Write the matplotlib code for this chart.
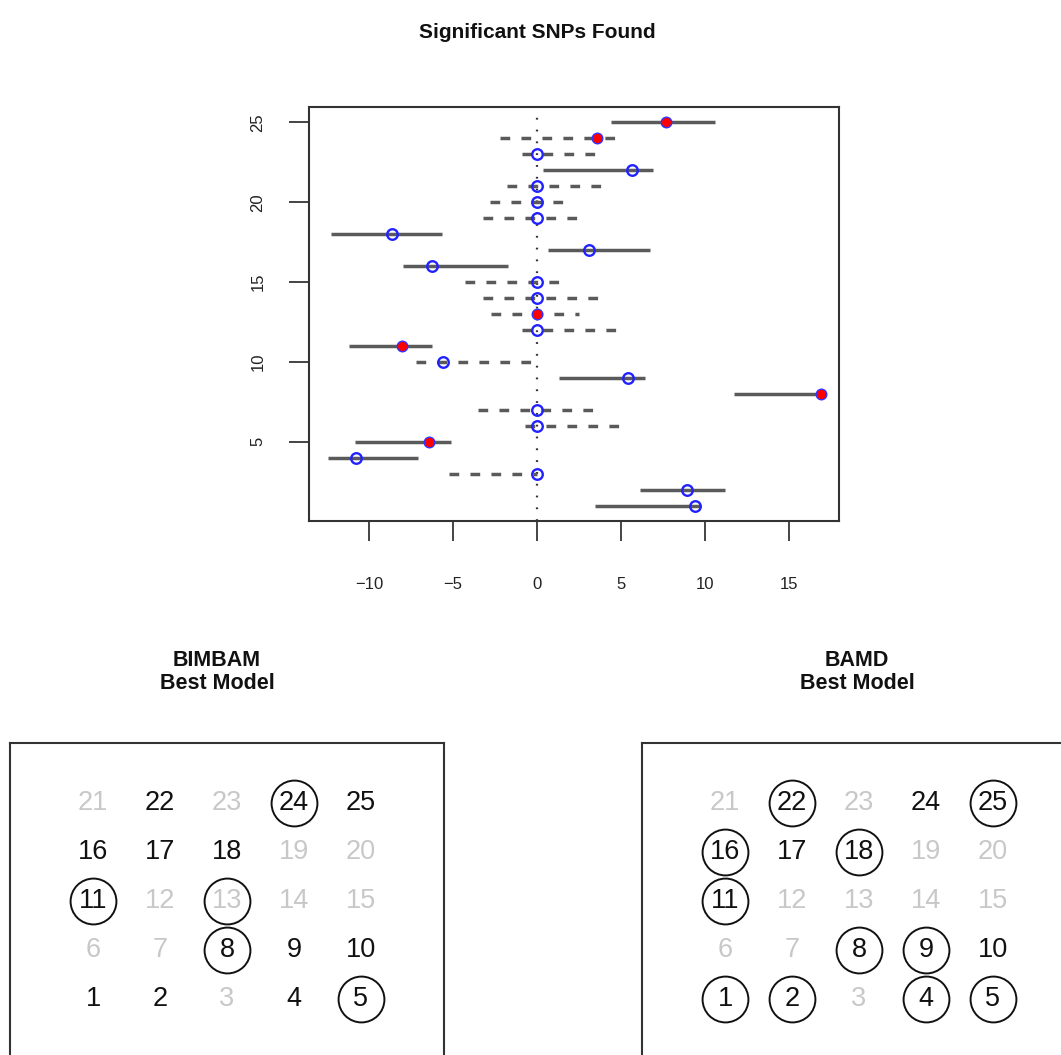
import matplotlib
matplotlib.use("Agg")
import matplotlib.pyplot as plt
import numpy as np

plt.rcParams['font.family'] = ['Liberation Sans', 'DejaVu Sans']
plt.rcParams['lines.scale_dashes'] = False

# SNP index, posterior estimate and interval
snp = list(range(1, 26))
est = [9.39, 8.96, 0, -10.75, -6.45, 0, 0, 16.90, 5.39, -5.57,
       -8.02, 0, 0, 0, 0, -6.22, 3.07, -8.64, 0, 0,
       0, 5.66, 0, 3.57, 7.66]
lower = [3.44, 6.12, -5.26, -12.46, -10.86, -0.73, -3.49, 11.73, 1.32, -7.20,
         -11.20, -0.90, -2.71, -3.24, -4.28, -8.00, 0.63, -12.28, -3.24, -2.82,
         -1.77, 0.38, -0.90, -2.19, 4.38]
upper = [9.70, 11.21, 0, -7.10, -5.11, 4.90, 3.55, 16.90, 6.41, 0,
         -6.22, 4.80, 2.50, 3.70, 1.36, -1.73, 6.72, -5.68, 2.50, 1.61,
         3.86, 6.89, 3.55, 4.63, 10.60]
solid = [1, 1, 0, 1, 1, 0, 0, 1, 1, 0,
         1, 0, 0, 0, 0, 1, 1, 1, 0, 0,
         0, 1, 0, 0, 1]
red = [5, 8, 11, 13, 24, 25]

# best model grids
dark_ids = [1, 2, 4, 5, 8, 9, 10, 11, 16, 17, 18, 22, 24, 25]
bimbam_circled = [5, 8, 11, 13, 24]
bamd_circled = [1, 2, 4, 5, 8, 9, 11, 16, 18, 22, 25]

W, H = 1061, 1055
fig = plt.figure(figsize=(W / 100, H / 100), dpi=100)

ax = fig.add_axes([309 / W, 1 - 521 / H, 530 / W, 414 / H])
ax.axvline(0, color='#333333', lw=1.6, linestyle=(0, (1.3, 7.2)))
for i in range(len(snp)):
    ls = '-' if solid[i] else (0, (7.0, 8.1))
    ax.plot([lower[i], upper[i]], [snp[i], snp[i]], color='#5a5a5a', lw=2.5,
            linestyle=ls, solid_capstyle='butt', dash_capstyle='butt')
for i in range(len(snp)):
    if snp[i] in red:
        ax.plot(est[i], snp[i], 'o', ms=7.6, mfc='red', mec='#3333ff', mew=1.0)
    else:
        ax.plot(est[i], snp[i], 'o', ms=7.6, mfc='none', mec='#2222ff', mew=1.7)
ax.set_xlim(-13.57, 17.98)
ax.set_ylim(0.04, 25.96)
ax.set_xticks([-10, -5, 0, 5, 10, 15])
ax.set_xticklabels(['\u221210', '\u22125', '0', '5', '10', '15'])
ax.set_yticks([5, 10, 15, 20, 25])
ax.set_yticklabels(['5', '10', '15', '20', '25'], rotation=90, va='center')
ax.tick_params(axis='x', length=14.5, width=1.4, color='#444444', pad=26, labelsize=12, labelcolor='#222222')
ax.tick_params(axis='y', length=14.5, width=1.4, color='#444444', pad=17, labelsize=12, labelcolor='#222222')
for s in ax.spines.values():
    s.set_linewidth(1.5)
    s.set_color('#333333')
fig.text(537 / W, 1 - 33 / H, 'Significant SNPs Found', ha='center', va='center',
         fontsize=15, fontweight='bold', color='#111111')


def grid_panel(left, circled, title, tx):
    a = fig.add_axes([left / W, 1 - 1059 / H, 434 / W, 316 / H])
    a.set_xlim(-0.24, 6.24)
    a.set_ylim(-0.21, 6.21)
    a.set_xticks([])
    a.set_yticks([])
    for s in a.spines.values():
        s.set_linewidth(1.5)
        s.set_color('#333333')
    for k in range(1, 26):
        col = (k - 1) % 5 + 1
        row = (k - 1) // 5 + 1
        c = '#111111' if k in dark_ids else '#c8c8c8'
        a.text(col, row, str(k), ha='center', va='center', fontsize=19.5, color=c)
        if k in circled:
            a.plot(col, row, 'o', ms=33, mfc='none', mec='#111111', mew=1.4)
    fig.text(tx / W, 1 - 672 / H, title, ha='center', va='center', fontsize=15.5,
             fontweight='bold', color='#111111', linespacing=1.15)


grid_panel(10, bimbam_circled, 'BIMBAM\nBest Model', 217)
grid_panel(642, bamd_circled, 'BAMD\nBest Model', 857)

fig.savefig('out.png', dpi=100)
